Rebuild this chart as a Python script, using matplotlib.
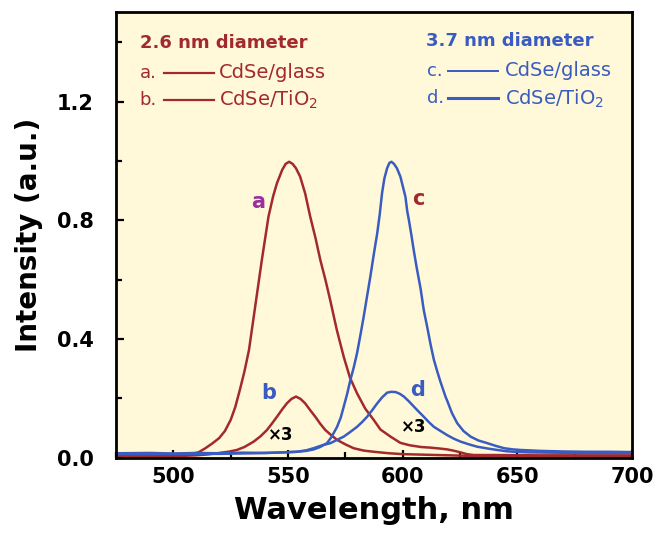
import matplotlib
matplotlib.use("Agg")
import matplotlib.pyplot as plt
from matplotlib.ticker import MultipleLocator, FormatStrFormatter

RED = "#a32a2c"
BLUE = "#3a5cc0"
PURPLE = "#9c2e9e"
PANEL = "#fff9da"

# 2.6 nm dots: a = CdSe/glass, b = CdSe/TiO2 (x3)
wl_a = [475, 490, 500, 507, 511, 514, 517, 520, 522.5, 525, 527, 529, 531, 533, 535.7,
        538.6, 541.5, 543.5, 545.2, 547.5, 549, 550.5, 552, 553.5, 555.3, 557.5, 559.7,
        562, 564.1, 566.3, 568.4, 571.3, 574.3, 577, 580.1, 583.7, 587.4, 590.3, 594.7,
        599, 603, 608, 612, 616, 619.4, 622, 625.2, 628, 631, 640, 660, 680, 700]
int_a = [0.008, 0.008, 0.009, 0.011, 0.018, 0.032, 0.048, 0.066, 0.09, 0.127, 0.17, 0.228,
         0.29, 0.363, 0.509, 0.666, 0.812, 0.88, 0.925, 0.97, 0.99, 0.997, 0.99, 0.975,
         0.947, 0.89, 0.812, 0.74, 0.666, 0.6, 0.531, 0.43, 0.34, 0.27, 0.217, 0.165,
         0.127, 0.095, 0.071, 0.05, 0.042, 0.036, 0.034, 0.031, 0.028, 0.024, 0.018, 0.012,
         0.009, 0.009, 0.008, 0.008, 0.008]

wl_b = [475, 500, 510, 515, 519, 524, 527.7, 531, 535, 538, 540.8, 543, 545.2, 547.5,
        549.5, 551.5, 553.5, 555.5, 557.5, 559.7, 561.9, 564, 566.3, 569, 571.4, 575,
        578.6, 583, 587.4, 594, 600, 610, 620, 630, 650, 700]
int_b = [0.004, 0.005, 0.008, 0.011, 0.015, 0.02, 0.026, 0.036, 0.054, 0.072, 0.093, 0.115,
         0.138, 0.163, 0.183, 0.198, 0.206, 0.198, 0.183, 0.16, 0.138, 0.115, 0.093, 0.075,
         0.06, 0.045, 0.032, 0.024, 0.02, 0.015, 0.012, 0.01, 0.008, 0.006, 0.005, 0.004]

# 3.7 nm dots: c = CdSe/glass, d = CdSe/TiO2 (x3)
wl_c = [475, 490, 500, 510, 520, 530, 540, 548, 553.9, 558, 561.2, 564, 567, 569, 571.4,
        573, 574.3, 575.8, 577.2, 578.7, 580.1, 581.5, 583, 584.5, 585.9, 587.4, 588.9,
        590, 591, 592, 593.2, 594.2, 595.1, 596.2, 597.5, 599, 600.2, 601.2, 602, 602.7,
        603.8, 604.8, 606, 607.1, 607.8, 609.2, 610.7, 612.2, 613.6, 615.1, 616.5, 618.7,
        619.4, 621.5, 623.8, 626.5, 629.6, 633, 636.9, 640.5, 644.2, 648, 651.5, 660,
        670, 680, 690, 700]
int_c = [0.015, 0.016, 0.014, 0.016, 0.015, 0.017, 0.016, 0.018, 0.02, 0.023, 0.028, 0.036,
         0.049, 0.07, 0.104, 0.135, 0.172, 0.215, 0.262, 0.305, 0.352, 0.41, 0.475, 0.545,
         0.61, 0.685, 0.756, 0.82, 0.891, 0.94, 0.975, 0.993, 0.997, 0.99, 0.975, 0.947,
         0.91, 0.879, 0.83, 0.801, 0.75, 0.7, 0.645, 0.599, 0.57, 0.497, 0.44, 0.38, 0.33,
         0.29, 0.255, 0.205, 0.192, 0.15, 0.116, 0.09, 0.071, 0.058, 0.049, 0.04, 0.032,
         0.028, 0.026, 0.023, 0.021, 0.02, 0.02, 0.019]

wl_d = [475, 500, 520, 535, 545, 553.9, 558, 561.2, 565, 568.5, 571.4, 574.3, 577.2, 580.1,
        582.3, 584.5, 586.7, 588.9, 591, 593.2, 595, 597, 598.8, 600.5, 602.7, 604.9, 607,
        609.2, 611.4, 613.6, 616.5, 619.4, 622.3, 625.3, 628.9, 632.5, 637, 641.3, 645,
        648.5, 655, 665, 680, 700]
int_d = [0.012, 0.013, 0.013, 0.015, 0.017, 0.02, 0.025, 0.032, 0.042, 0.049, 0.06, 0.071,
         0.087, 0.104, 0.12, 0.138, 0.16, 0.183, 0.203, 0.219, 0.222, 0.221, 0.215, 0.206,
         0.19, 0.172, 0.155, 0.138, 0.12, 0.104, 0.09, 0.076, 0.064, 0.054, 0.045, 0.037,
         0.031, 0.026, 0.022, 0.02, 0.018, 0.017, 0.016, 0.016]

fig = plt.figure(figsize=(6.55, 5.4), dpi=100)
ax = fig.add_axes([0.177, 0.1524, 0.788, 0.8245])
ax.set_facecolor(PANEL)

lw = 1.8
ax.plot(wl_a, int_a, color=RED, lw=lw)
ax.plot(wl_b, int_b, color=RED, lw=lw)
ax.plot(wl_c, int_c, color=BLUE, lw=lw)
ax.plot(wl_d, int_d, color=BLUE, lw=lw)

ax.set_xlim(475, 700)
ax.set_ylim(0, 1.5)

ax.xaxis.set_major_locator(MultipleLocator(50))
ax.xaxis.set_minor_locator(MultipleLocator(25))
ax.yaxis.set_major_locator(MultipleLocator(0.4))
ax.yaxis.set_minor_locator(MultipleLocator(0.2))
ax.yaxis.set_major_formatter(FormatStrFormatter("%.1f"))

ax.tick_params(which="both", direction="in", width=1.6, top=False, right=False)
ax.tick_params(which="major", length=6)
ax.tick_params(which="minor", length=4)
ax.tick_params(axis="x", labelsize=15, pad=7)
ax.tick_params(axis="y", labelsize=15, pad=16)
for lab in ax.get_xticklabels() + ax.get_yticklabels():
    lab.set_fontweight("bold")
for sp in ax.spines.values():
    sp.set_linewidth(2)

ax.set_xlabel("Wavelength, nm", fontsize=22, fontweight="bold", labelpad=6)
ax.set_ylabel("Intensity (a.u.)", fontsize=20, fontweight="bold", labelpad=10)

# curve tags
ax.text(537.2, 0.863, "a", color=PURPLE, fontsize=15, fontweight="bold", ha="center", va="center")
ax.text(607.0, 0.871, "c", color=RED, fontsize=15, fontweight="bold", ha="center", va="center")
ax.text(541.8, 0.217, "b", color=BLUE, fontsize=15, fontweight="bold", ha="center", va="center")
ax.text(606.3, 0.228, "d", color=BLUE, fontsize=15, fontweight="bold", ha="center", va="center")
ax.text(546.6, 0.076, "×3", color="black", fontsize=12, fontweight="bold", ha="center", va="center")
ax.text(604.7, 0.104, "×3", color="black", fontsize=12, fontweight="bold", ha="center", va="center")

# hand-built key, two columns
tr = ax.transAxes
ax.text(0.046, 0.931, "2.6 nm diameter", transform=tr, color=RED, fontsize=13,
        fontweight="bold", va="center")
ax.text(0.046, 0.865, "a.", transform=tr, color=RED, fontsize=13, va="center")
ax.plot([0.093, 0.19], [0.865, 0.865], transform=tr, color=RED, lw=1.6)
ax.text(0.200, 0.865, "CdSe/glass", transform=tr, color=RED, fontsize=14, va="center")
ax.text(0.046, 0.803, "b.", transform=tr, color=RED, fontsize=13, va="center")
ax.plot([0.093, 0.19], [0.803, 0.803], transform=tr, color=RED, lw=1.6)
ax.text(0.200, 0.803, "CdSe/TiO$_2$", transform=tr, color=RED, fontsize=14, va="center")

ax.text(0.600, 0.936, "3.7 nm diameter", transform=tr, color=BLUE, fontsize=13,
        fontweight="bold", va="center")
ax.text(0.603, 0.869, "c.", transform=tr, color=BLUE, fontsize=13, va="center")
ax.plot([0.643, 0.740], [0.869, 0.869], transform=tr, color=BLUE, lw=1.4)
ax.text(0.754, 0.869, "CdSe/glass", transform=tr, color=BLUE, fontsize=14, va="center")
ax.text(0.603, 0.807, "d.", transform=tr, color=BLUE, fontsize=13, va="center")
ax.plot([0.643, 0.740], [0.807, 0.807], transform=tr, color=BLUE, lw=2.2)
ax.text(0.754, 0.807, "CdSe/TiO$_2$", transform=tr, color=BLUE, fontsize=14, va="center")

fig.savefig("out.png", dpi=100)
